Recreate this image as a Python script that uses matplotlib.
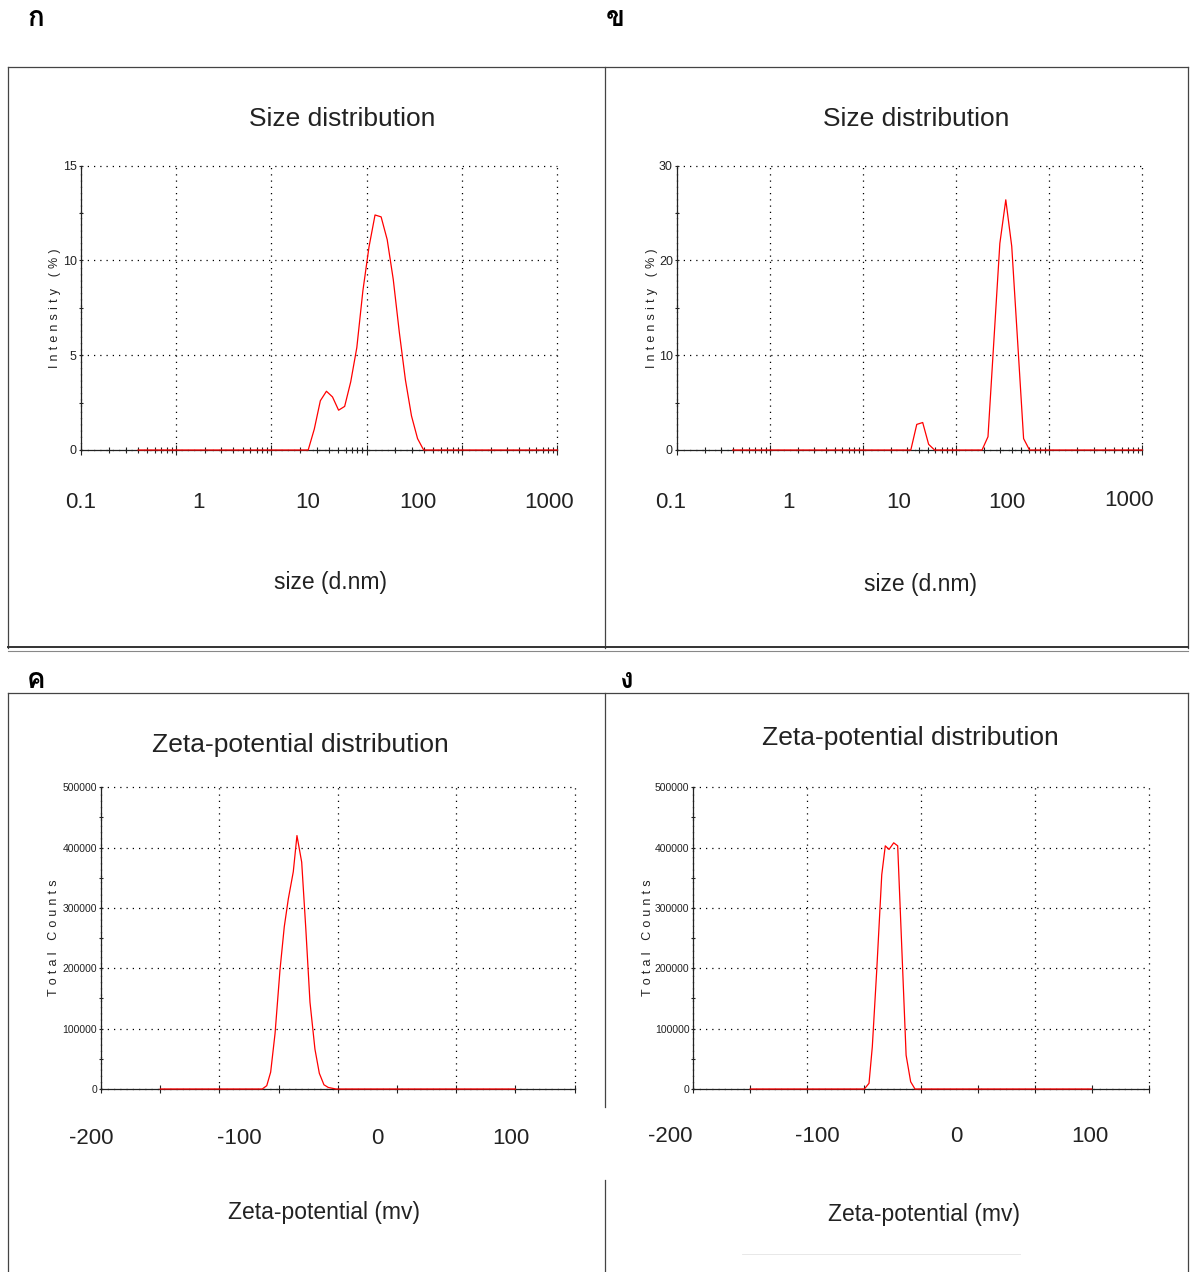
import matplotlib
matplotlib.use("Agg")
import matplotlib.pyplot as plt
from matplotlib import font_manager
from matplotlib.ft2font import FT2Font
from matplotlib.lines import Line2D
from matplotlib.ticker import FixedLocator, LogLocator, NullFormatter

W, H = 1191, 1272

# size distribution, intensity (%) vs size (d.nm)
size_a = [0.4, 24.36, 28.21, 32.67, 37.84, 43.82, 50.75, 58.77, 68.06, 78.82, 91.28,
          105.7, 122.4, 141.8, 164.2, 190.1, 220.2, 255.0, 295.3, 342.0, 396.1, 10000]
intensity_a = [0, 0, 1.1, 2.6, 3.1, 2.8, 2.1, 2.3, 3.6, 5.4, 8.4,
               10.7, 12.4, 12.3, 11.1, 9.0, 6.2, 3.7, 1.8, 0.6, 0, 0]

size_b = [0.4, 32.67, 37.84, 43.82, 50.75, 58.77, 190.1, 220.2, 255.0, 295.3, 342.0,
          396.1, 458.7, 531.2, 615.1, 10000]
intensity_b = [0, 0, 2.7, 2.9, 0.6, 0, 0, 1.4, 11.6, 21.8, 26.4,
               21.5, 11.4, 1.2, 0, 0]

# zeta-potential distribution, total counts vs mV
zeta_c = [-150, -63.8, -60.0, -56.7, -53.0, -48.8, -45.2, -41.8, -37.6, -34.5, -30.5,
          -27.0, -23.5, -19.3, -15.6, -11.7, -8.0, -1.5, 150]
counts_c = [0, 0, 5500, 28000, 92000, 198000, 269000, 315000, 360000, 420000, 376000,
            265000, 144000, 66000, 26000, 7000, 2500, 0, 0]

zeta_d = [-150, -49.7, -45.6, -42.7, -38.8, -34.4, -31.3, -28.0, -23.9, -20.4, -13.0,
          -9.0, -5.2, 150]
counts_d = [0, 0, 9400, 70000, 197000, 355000, 403000, 397000, 408000, 403000, 56000,
            12000, 0, 0]

size_labels = ["0.1", "1", "10", "100", "1000"]
zeta_labels = ["-200", "-100", "0", "100"]
panel_letters = ["ก", "ข", "ค", "ง"]

TXT = "#222222"
plt.rcParams["font.family"] = ["Liberation Sans", "DejaVu Sans"]


def thai_font():
    best = None
    for f in font_manager.fontManager.ttflist:
        try:
            if FT2Font(f.fname).get_char_index(ord("ก")):
                if f.weight in ("bold", 700):
                    return f.name
                best = best or f.name
        except Exception:
            pass
    return best or "DejaVu Sans"


THAI = [thai_font(), "DejaVu Sans"]


def fx(x):
    return x / W


def fy(y):
    return 1 - y / H


def ax_at(fig, left, top, right, bottom):
    return fig.add_axes([fx(left), fy(bottom), (right - left) / W, (bottom - top) / H])


def hline(fig, x0, x1, y, lw=0.9, color="#444444"):
    fig.add_artist(Line2D([fx(x0), fx(x1)], [fy(y), fy(y)], lw=lw, color=color))


def vline(fig, x, y0, y1, lw=0.9, color="#444444"):
    fig.add_artist(Line2D([fx(x), fx(x)], [fy(y0), fy(y1)], lw=lw, color=color))


def style(ax, ylabel, label_x, box, labelsize):
    for s in ("top", "right"):
        ax.spines[s].set_visible(False)
    for s in ("left", "bottom"):
        ax.spines[s].set_color("#222222")
        ax.spines[s].set_linewidth(0.9)
    ax.grid(True, which="major", color="black", linestyle=(0, (1, 4)), linewidth=0.9)
    ax.set_axisbelow(True)
    for gl in ax.get_xgridlines() + ax.get_ygridlines():
        gl.set_clip_on(False)
    ax.tick_params(axis="x", which="major", direction="inout", length=7, width=0.8,
                   color="#222222", labelbottom=False)
    ax.tick_params(axis="x", which="minor", direction="inout", length=4.5, width=0.8,
                   color="#222222")
    ax.tick_params(axis="y", which="both", direction="inout", length=3.5, width=0.8,
                   color="#222222", pad=1, labelsize=labelsize, labelcolor=TXT)
    # the instrument prints the axis title with wide letter spacing
    ax.set_ylabel("\u2004".join(ylabel), fontsize=9, color=TXT)
    ax.yaxis.label.set_va("center")
    ax.yaxis.set_label_coords((label_x - box[0]) / (box[2] - box[0]), 0.5)


def size_plot(fig, box, x, y, ymax, label_x):
    ax = ax_at(fig, *box)
    ax.plot(x, y, color="#ff0000", lw=0.9, clip_on=False, zorder=5)
    ax.set_xscale("log")
    ax.set_xlim(0.1, 10000)
    ax.set_ylim(0, ymax)
    ax.xaxis.set_major_locator(LogLocator(base=10, numticks=10))
    ax.xaxis.set_minor_locator(LogLocator(base=10, subs=range(2, 10), numticks=20))
    ax.xaxis.set_minor_formatter(NullFormatter())
    ax.yaxis.set_major_locator(FixedLocator([0, ymax / 3, 2 * ymax / 3, ymax]))
    ax.yaxis.set_minor_locator(FixedLocator([ymax / 6, ymax / 2, 5 * ymax / 6]))
    ax.set_yticklabels([f"{v:g}" for v in [0, ymax / 3, 2 * ymax / 3, ymax]])
    style(ax, "Intensity (%)", label_x, box, 9)
    return ax


def zeta_plot(fig, box, x, y, label_x):
    ax = ax_at(fig, *box)
    ax.plot(x, y, color="#ff0000", lw=0.9, clip_on=False, zorder=5)
    ax.set_xlim(-200, 200)
    ax.set_ylim(0, 500000)
    ax.xaxis.set_major_locator(FixedLocator([-200, -100, 0, 100, 200]))
    ax.xaxis.set_minor_locator(FixedLocator([-150, -50, 50, 150]))
    ax.yaxis.set_major_locator(FixedLocator(range(0, 500001, 100000)))
    ax.yaxis.set_minor_locator(FixedLocator(range(50000, 500000, 100000)))
    ax.set_yticklabels([str(v) for v in range(0, 500001, 100000)])
    style(ax, "Total Counts", label_x, box, 7.5)
    ax.tick_params(axis="x", which="both", length=6)
    return ax


fig = plt.figure(figsize=(W / 100, H / 100), dpi=100)

# table borders
hline(fig, 8, 1188, 67)
vline(fig, 8, 67, 648)
vline(fig, 605, 67, 648)
vline(fig, 1188, 67, 648)
hline(fig, 8, 1188, 647, lw=1.4, color="#333333")
hline(fig, 8, 1188, 651, lw=0.8, color="#888888")
hline(fig, 8, 1188, 693)
vline(fig, 8, 693, 1272)
vline(fig, 605, 693, 1107)
vline(fig, 605, 1180, 1272)
vline(fig, 1188, 693, 1272)
hline(fig, 742, 1020, 1254, lw=0.6, color="#e4e4e4")

# panel letters
for letter, (px, py) in zip(panel_letters, [(36, 18), (615, 18), (36, 680), (627, 680)]):
    fig.text(fx(px), fy(py), letter, fontsize=20, fontweight="bold", family=THAI,
             ha="center", va="center", color="black")

# size distributions
size_plot(fig, (80.7, 165.7, 557.3, 450), size_a, intensity_a, 15, 55)
size_plot(fig, (676.7, 165.7, 1142.3, 450), size_b, intensity_b, 30, 652)

fig.text(fx(342), fy(119), "Size distribution", fontsize=19, ha="center", va="center", color=TXT)
fig.text(fx(916), fy(119), "Size distribution", fontsize=19, ha="center", va="center", color=TXT)
for lab, px in zip(size_labels, [81, 199, 308, 418, 549]):
    fig.text(fx(px), fy(503), lab, fontsize=16, ha="center", va="center", color=TXT)
for lab, px, py in zip(size_labels, [671, 789, 899, 1007, 1129], [503, 503, 503, 503, 501]):
    fig.text(fx(px), fy(py), lab, fontsize=16, ha="center", va="center", color=TXT)
fig.text(fx(330), fy(583), "size (d.nm)", fontsize=16.5, ha="center", va="center", color=TXT)
fig.text(fx(921), fy(584), "size (d.nm)", fontsize=16.5, ha="center", va="center", color=TXT)

# zeta-potential distributions
zeta_plot(fig, (101, 787.3, 574.6, 1089), zeta_c, counts_c, 54)
zeta_plot(fig, (693.3, 787.3, 1148.5, 1089), zeta_d, counts_d, 648)

fig.text(fx(300), fy(745), "Zeta-potential distribution", fontsize=19, ha="center", va="center", color=TXT)
fig.text(fx(910), fy(738), "Zeta-potential distribution", fontsize=19, ha="center", va="center", color=TXT)
for lab, px in zip(zeta_labels, [91, 239, 377, 511]):
    fig.text(fx(px), fy(1139), lab, fontsize=16, ha="center", va="center", color=TXT)
for lab, px in zip(zeta_labels, [670, 817, 956, 1090]):
    fig.text(fx(px), fy(1137), lab, fontsize=16, ha="center", va="center", color=TXT)
fig.text(fx(324), fy(1212), "Zeta-potential (mv)", fontsize=16.5, ha="center", va="center", color=TXT)
fig.text(fx(924), fy(1215), "Zeta-potential (mv)", fontsize=16.5, ha="center", va="center", color=TXT)

fig.savefig("out.png", dpi=100)
